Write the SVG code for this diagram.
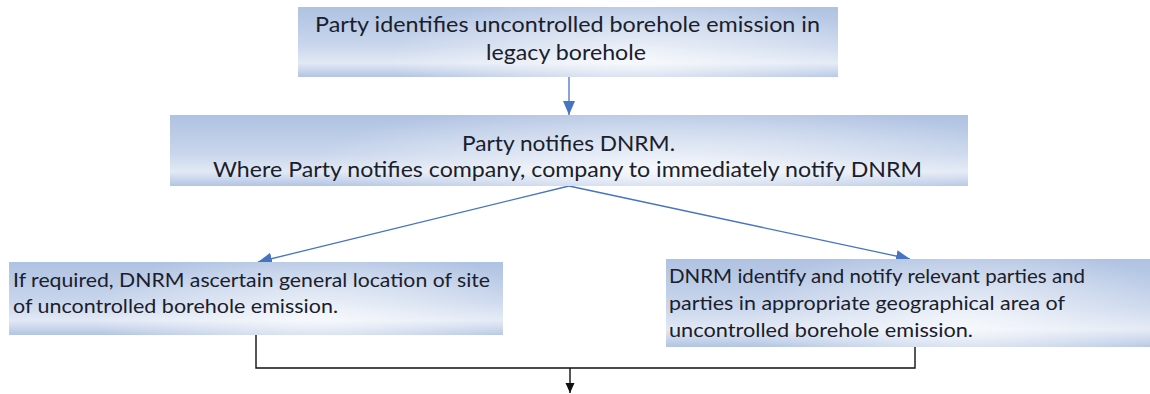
<svg xmlns="http://www.w3.org/2000/svg" width="1150" height="394" viewBox="0 0 1150 394">
  <defs>
    <linearGradient id="boxLin" x1="0" y1="0" x2="0" y2="1">
      <stop offset="0" stop-color="#afc2e2"/>
      <stop offset="0.55" stop-color="#c9d6ec"/>
      <stop offset="0.8" stop-color="#e2e9f5"/>
      <stop offset="1" stop-color="#b2c4e3"/>
    </linearGradient>
    <radialGradient id="boxRad" cx="0.62" cy="0.75" r="0.45" gradientTransform="translate(0.62 0.75) scale(1 2.2) translate(-0.62 -0.75)">
      <stop offset="0" stop-color="#ffffff" stop-opacity="0.7"/>
      <stop offset="1" stop-color="#ffffff" stop-opacity="0"/>
    </radialGradient>
    <marker id="arrBlue" markerUnits="userSpaceOnUse" markerWidth="15" markerHeight="13" refX="14" refY="6.5" orient="auto">
      <path d="M0,0.5 L14,6.5 L0,12.5 z" fill="#4674c2"/>
    </marker>
    <marker id="arrBlack" markerUnits="userSpaceOnUse" markerWidth="10" markerHeight="10" refX="10" refY="5" orient="auto">
      <path d="M0,0.5 L10,5 L0,9.5 z" fill="#111111"/>
    </marker>
  </defs>
  <style>
    .box { fill: url(#boxLin); }
    .glow { fill: url(#boxRad); }
    text { font-family: Lato, "Liberation Sans", sans-serif; fill: #1a202b; }
    .big { font-size: 22px; }
    .small { font-size: 20px; }
    .blue { stroke: #4674c2; stroke-width: 1.3; fill: none; }
    .black { stroke: #111111; stroke-width: 1.4; fill: none; }
  </style>
  <rect width="1150" height="394" fill="#ffffff"/>

  <g id="connectors">
    <line class="blue" x1="569" y1="77" x2="569" y2="115" marker-end="url(#arrBlue)"/>
    <line class="blue" x1="569" y1="186" x2="258" y2="262" marker-end="url(#arrBlue)"/>
    <line class="blue" x1="569" y1="186" x2="910" y2="259" marker-end="url(#arrBlue)"/>
    <polyline class="black" points="256,335 256,368 915,368 915,347"/>
    <line class="black" x1="570" y1="368" x2="570" y2="393" marker-end="url(#arrBlack)"/>
  </g>

  <g id="node1">
    <rect class="box" x="298" y="7" width="540" height="70"/>
    <rect class="glow" x="298" y="7" width="540" height="70"/>
    <text class="big" x="315" y="32" textLength="505" lengthAdjust="spacingAndGlyphs">Party identifies uncontrolled borehole emission in</text>
    <text class="big" x="486" y="60" textLength="160" lengthAdjust="spacingAndGlyphs">legacy borehole</text>
  </g>

  <g id="node2">
    <rect class="box" x="170" y="115" width="798" height="71"/>
    <rect class="glow" x="170" y="115" width="798" height="71"/>
    <text class="big" x="462" y="151" textLength="213" lengthAdjust="spacingAndGlyphs">Party notifies DNRM.</text>
    <text class="big" x="213" y="177" textLength="709" lengthAdjust="spacingAndGlyphs">Where Party notifies company, company to immediately notify DNRM</text>
  </g>

  <g id="node3">
    <rect class="box" x="9" y="262" width="494" height="73"/>
    <rect class="glow" x="9" y="262" width="494" height="73"/>
    <text class="small" x="13" y="287" textLength="477" lengthAdjust="spacingAndGlyphs">If required, DNRM ascertain general location of site</text>
    <text class="small" x="13" y="313" textLength="325" lengthAdjust="spacingAndGlyphs">of uncontrolled borehole emission.</text>
  </g>

  <g id="node4">
    <rect class="box" x="666" y="259" width="484" height="88"/>
    <rect class="glow" x="666" y="259" width="484" height="88"/>
    <text class="small" x="669" y="283" textLength="416" lengthAdjust="spacingAndGlyphs">DNRM identify and notify relevant parties and</text>
    <text class="small" x="669" y="310" textLength="396" lengthAdjust="spacingAndGlyphs">parties in appropriate geographical area of</text>
    <text class="small" x="669" y="337" textLength="304" lengthAdjust="spacingAndGlyphs">uncontrolled borehole emission.</text>
  </g>
</svg>
